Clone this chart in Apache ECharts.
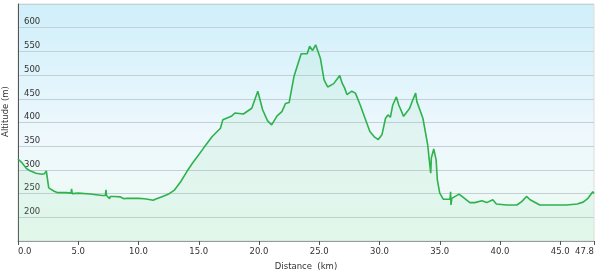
<!DOCTYPE html>
<html><head><meta charset="utf-8">
<script src="https://cdn.jsdelivr.net/npm/echarts@6/dist/echarts.min.js"></script>
<style>html,body{margin:0;padding:0;background:#fff;}#c{width:600px;height:273px;}</style>
</head><body><div id="c"></div>
<script>
var km = [0, 0.3, 0.7, 1.0, 1.5, 2.0, 2.2, 2.35, 2.45, 2.55, 2.65, 3.0, 3.3, 4.0, 4.4, 4.45, 4.5, 5.0, 6.0, 7.0,
  7.25, 7.3, 7.35, 7.5, 7.6, 7.65, 8.0, 8.5, 8.8, 9.0, 10.0, 10.5, 11.0, 11.2, 11.5, 12.0, 12.5, 13.0, 13.5, 14.0,
  14.5, 15.0, 15.4, 16.1, 16.8, 17.0, 17.7, 18.0, 18.7, 19.4, 19.9, 20.3, 20.7, 21.05, 21.5, 21.9, 22.2, 22.5, 22.9, 23.3,
  23.5, 24.0, 24.2, 24.45, 24.7, 25.1, 25.4, 25.7, 26.2, 26.7, 26.9, 27.1, 27.3, 27.7, 28.0, 28.4, 28.8, 29.2, 29.6, 29.9,
  30.2, 30.5, 30.7, 30.9, 31.1, 31.4, 31.6, 32.0, 32.3, 32.5, 32.8, 33.0, 33.1, 33.4, 33.6, 33.8, 34.0, 34.1, 34.25, 34.3,
  34.5, 34.7, 34.8, 35.0, 35.3, 35.85, 35.9, 35.93, 36.0, 36.1, 36.6, 36.95, 37.5, 37.9, 38.5, 38.9, 39.4, 39.7, 40.55, 41.4,
  41.8, 42.2, 42.5, 43.3, 44.4, 45.5, 46.4, 46.9, 47.3, 47.7, 47.8];
var alt = [323, 316, 303, 298, 293, 291, 292, 298, 296, 262, 258, 255, 252, 252, 251, 260, 250, 251, 249, 246,
  246, 258, 246, 245, 239, 244, 244, 243, 239, 240, 240, 239, 237, 236, 239, 244, 249, 258, 275, 296,
  315, 332, 346, 370, 388, 406, 413, 420, 418, 430, 466, 427, 404, 395, 414, 423, 440, 442, 497, 529,
  545, 545, 561, 552, 564, 535, 490, 475, 482, 499, 483, 473, 459, 466, 462, 437, 409, 381, 369, 364,
  374, 409, 416, 411, 437, 454, 437, 413, 423, 430, 450, 462, 444, 423, 409, 381, 353, 328, 293, 325,
  344, 321, 279, 251, 238, 238, 254, 226, 240, 240, 249, 242, 231, 231, 235, 231, 237, 228, 226, 226,
  233, 244, 237, 226, 226, 226, 228, 232, 240, 254, 250];
var yTicks = [200, 250, 300, 350, 400, 450, 500, 550, 600];
var xMax = 47.8;

var data = km.map(function (k, i) { return [k, alt[i]]; });
var font = 'DejaVu Sans';
var chart = echarts.init(document.getElementById('c'), null, {renderer: 'canvas'});
chart.setOption({
  animation: false,
  backgroundColor: '#ffffff',
  grid: {
    left: 18, right: 6, top: 4, bottom: 32, show: true, containLabel: false, outerBoundsMode: 'none',
    borderColor: '#dcdcdc', borderWidth: 1,
    backgroundColor: new echarts.graphic.LinearGradient(0, 0, 0, 1, [
      {offset: 0, color: '#cfeffa'},
      {offset: 0.55, color: '#eef8fd'},
      {offset: 1, color: '#eefbf2'}
    ])
  },
  xAxis: {
    type: 'value', min: 0, max: xMax, interval: 5,
    name: 'Distance  (km)', nameLocation: 'middle', nameGap: 21,
    nameTextStyle: {fontFamily: font, fontSize: 8.5, color: '#333'},
    axisLine: {show: true, lineStyle: {color: '#999', width: 1}},
    axisTick: {show: true, length: 4, lineStyle: {color: '#555'}},
    axisLabel: {fontFamily: font, fontSize: 8.5, color: '#333', margin: 6,
      showMaxLabel: true, alignMinLabel: 'left', alignMaxLabel: 'right',
      formatter: function (v) { return v.toFixed(1); }},
    splitLine: {show: false}
  },
  yAxis: {
    type: 'value', min: 150, max: 650, interval: 50,
    name: 'Altitude (m)', nameLocation: 'middle', nameGap: -3, nameRotate: 90,
    nameTextStyle: {fontFamily: font, fontSize: 8.5, color: '#333', padding: [0, 0, 0, 22]},
    axisLine: {show: true, lineStyle: {color: '#555', width: 1}},
    axisTick: {show: false},
    axisLabel: {inside: true, margin: 6, fontFamily: font, fontSize: 8.5, color: '#333',
      verticalAlign: 'bottom', padding: [0, 0, 1, 0],
      formatter: function (v) { return yTicks.indexOf(v) >= 0 ? String(v) : ''; }},
    splitLine: {show: true, lineStyle: {color: '#c3d1d6', width: 1}}
  },
  series: [{
    type: 'line', data: data, showSymbol: false, smooth: false,
    lineStyle: {color: '#2eb24d', width: 1.6},
    areaStyle: {color: 'rgba(120,220,150,0.15)'}
  }]
});
</script></body></html>
